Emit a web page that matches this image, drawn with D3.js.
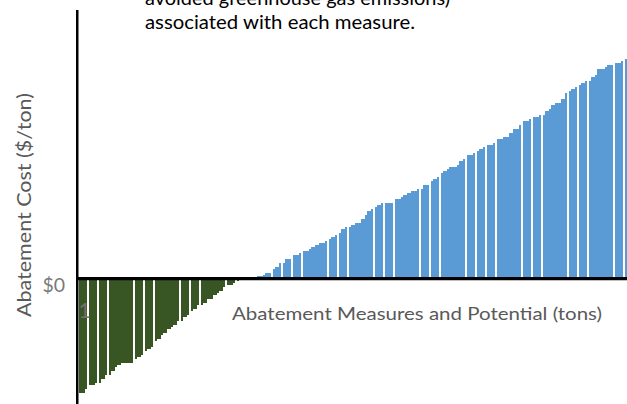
<!DOCTYPE html>
<html>
<head>
<meta charset="utf-8">
<script src="https://cdn.jsdelivr.net/npm/d3@7"></script>
<style>
  html, body { margin: 0; padding: 0; background: #fff; overflow: hidden; }
  text { font-family: Lato, "Open Sans", sans-serif; }
</style>
</head>
<body>
<svg id="chart" width="627" height="404"></svg>
<script>
// Marginal abatement cost curve: one column per measure, sorted by cost.
// Measures that save money (negative cost, $/ton)
const savingCosts = [
  -114, -114, -110, -106, -106, -104, -104, -100, -96, -96,
  -92, -88, -86, -84, -84, -84, -84, -80, -78, -76,
  -72, -70, -68, -62, -60, -56, -54, -50, -48, -46,
  -42, -42, -38, -36, -32, -30, -26, -26, -24, -20,
  -20, -16, -14, -12, -8, -6, -6, -4, -2, -1
];
// Measures with a positive cost ($/ton)
const positiveCosts = [
  1, 1, 1, 2, 3, 3, 4, 6, 6, 10,
  12, 16, 16, 20, 20, 24, 24, 26, 28, 28,
  30, 32, 34, 36, 36, 38, 40, 42, 44, 46,
  50, 52, 52, 54, 56, 56, 60, 64, 68, 70,
  72, 74, 76, 76, 76, 76, 80, 80, 82, 84,
  86, 88, 88, 90, 90, 94, 94, 98, 100, 102,
  106, 108, 110, 112, 112, 114, 118, 120, 124, 124,
  126, 128, 130, 132, 134, 134, 136, 140, 140, 142,
  142, 146, 150, 150, 154, 158, 158, 160, 162, 162,
  164, 164, 168, 170, 174, 176, 176, 180, 186, 188,
  190, 192, 194, 196, 198, 198, 202, 204, 210, 210,
  212, 214, 214, 216, 216, 218, 220
];
const yTickValues = [0];
const yTickLabels = ["$0"];
const noteLines = ["avoided greenhouse gas emissions)", "associated with each measure."];
const xTitle = "Abatement Measures and Potential (tons)";
const yTitle = "Abatement Cost ($/ton)";
const firstLabel = "1";

const costs = savingCosts.concat(positiveCosts);
const measures = costs.map((c, i) => i + 1);

const colorSaving = "#375623";
const colorCost = "#5B9BD5";
const axisGray = "#595959";

const svg = d3.select("#chart");

const x = d3.scaleBand()
  .domain(measures)
  .range([78.47, 627.08])
  .paddingInner(0.137)
  .paddingOuter(0);

const y = d3.scaleLinear()
  .domain([-120, 225])
  .range([399, 54]);

// columns are laid on a 2px cell grid
const cell = v => Math.floor(v / 2) * 2 + 1;

svg.append("g")
  .attr("shape-rendering", "crispEdges")
  .selectAll("rect")
  .data(costs)
  .join("rect")
  .attr("x", (d, i) => cell(x(measures[i])))
  .attr("width", (d, i) => cell(x(measures[i]) + x.bandwidth()) - cell(x(measures[i])))
  .attr("y", d => y(Math.max(0, d)))
  .attr("height", d => Math.abs(y(d) - y(0)))
  .attr("fill", d => d < 0 ? colorSaving : colorCost);

// zero baseline
svg.append("line")
  .attr("x1", 77).attr("x2", 627)
  .attr("y1", y(0) - 0.4).attr("y2", y(0) - 0.4)
  .attr("stroke", "#000")
  .attr("stroke-width", 3.2);

// vertical axis
svg.append("line")
  .attr("x1", 77.25).attr("x2", 77.25)
  .attr("y1", 10).attr("y2", 404)
  .attr("stroke", "#000")
  .attr("stroke-width", 2.5);

// stray data label on the first measure
svg.append("text")
  .attr("x", 78.5)
  .attr("y", 318)
  .attr("font-size", 21)
  .attr("fill", "#707070")
  .text(firstLabel);

// y tick label
svg.selectAll("text.ytick")
  .data(yTickValues)
  .join("text")
  .attr("class", "ytick")
  .attr("x", 65)
  .attr("y", d => y(d) + 12.5)
  .attr("text-anchor", "end")
  .attr("font-size", 19.5)
  .attr("fill", "#7a7a7a")
  .text((d, i) => yTickLabels[i]);

// axis titles
svg.append("text")
  .attr("transform", "translate(31,205) rotate(-90)")
  .attr("text-anchor", "middle")
  .attr("font-size", 18.5)
  .attr("fill", axisGray)
  .attr("textLength", 224)
  .attr("lengthAdjust", "spacingAndGlyphs")
  .text(yTitle);

svg.append("text")
  .attr("x", 232)
  .attr("y", 319.5)
  .attr("font-size", 17.5)
  .attr("fill", axisGray)
  .attr("textLength", 370)
  .attr("lengthAdjust", "spacingAndGlyphs")
  .text(xTitle);

// note text at the top
const noteWidths = [305, 270];
svg.selectAll("text.note")
  .data(noteLines)
  .join("text")
  .attr("class", "note")
  .attr("x", 145)
  .attr("y", (d, i) => 4.5 + i * 24)
  .attr("font-size", 20)
  .attr("fill", "#000")
  .attr("textLength", (d, i) => noteWidths[i])
  .attr("lengthAdjust", "spacingAndGlyphs")
  .text(d => d);
</script>
</body>
</html>
